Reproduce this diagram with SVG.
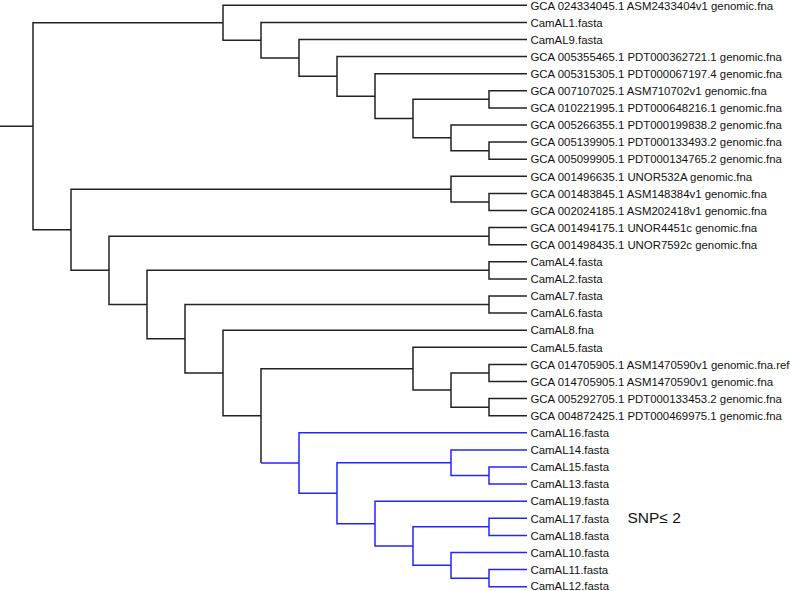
<svg xmlns="http://www.w3.org/2000/svg" width="791" height="591" viewBox="0 0 791 591">
<style>
.b{fill:none;stroke:#222;stroke-width:1.5;stroke-linejoin:miter}
.u{fill:none;stroke:#2424ff;stroke-width:1.5;stroke-linejoin:miter}
.t{font-family:"Liberation Sans",Arial,sans-serif;font-size:11.4px;fill:#111}
.s{font-family:"Liberation Sans",Arial,sans-serif;font-size:15.5px;fill:#111}
</style>
<rect width="791" height="591" fill="#fff"/>
<g id="connectors">
<path class="b" d="M0 126.25H33"/>
<path class="b" d="M223 22.74H33V229.75H71"/>
<path class="b" d="M527 5.3H223V40.17H261"/>
<path class="b" d="M527 22.4H261V57.94H299"/>
<path class="b" d="M527 39.5H299V76.37H337"/>
<path class="b" d="M527 56.6H337V96.15H375"/>
<path class="b" d="M527 73.7H375V118.59H413"/>
<path class="b" d="M489 99.35H413V137.83H451"/>
<path class="b" d="M527 90.8H489V107.9H527"/>
<path class="b" d="M527 125H451V150.65H489"/>
<path class="b" d="M527 142.1H489V159.2H527"/>
<path class="b" d="M451 189.13H71V270.36H109"/>
<path class="b" d="M527 176.3H451V201.95H489"/>
<path class="b" d="M527 193.4H489V210.5H527"/>
<path class="b" d="M489 236.15H109V304.57H147"/>
<path class="b" d="M527 227.6H489V244.7H527"/>
<path class="b" d="M489 270.35H147V338.79H185"/>
<path class="b" d="M527 261.8H489V278.9H527"/>
<path class="b" d="M489 304.55H185V373.02H223"/>
<path class="b" d="M527 296H489V313.1H527"/>
<path class="b" d="M527 330.2H223V415.84H261"/>
<path class="b" d="M413 368.68H261V463"/>
<path class="b" d="M527 347.3H413V390.05H451"/>
<path class="b" d="M489 372.95H451V407.15H489"/>
<path class="b" d="M527 364.4H489V381.5H527"/>
<path class="b" d="M527 398.6H489V415.7H527"/>
<path class="u" d="M261 463H299"/>
<path class="u" d="M527 432.8H299V493.19H337"/>
<path class="u" d="M451 462.73H337V523.65H375"/>
<path class="u" d="M527 449.9H451V475.55H489"/>
<path class="u" d="M527 467H489V484.1H527"/>
<path class="u" d="M527 501.2H375V546.09H413"/>
<path class="u" d="M489 526.85H413V565.33H451"/>
<path class="u" d="M527 518.3H489V535.4H527"/>
<path class="u" d="M527 552.5H451V578.15H489"/>
<path class="u" d="M527 569.6H489V586.7H527"/>
</g>
<g id="leaf1"><text class="t" x="530.5" y="9.5">GCA 024334045.1 ASM2433404v1 genomic.fna</text></g>
<g id="leaf2"><text class="t" x="530.5" y="26.6">CamAL1.fasta</text></g>
<g id="leaf3"><text class="t" x="530.5" y="43.7">CamAL9.fasta</text></g>
<g id="leaf4"><text class="t" x="530.5" y="60.8">GCA 005355465.1 PDT000362721.1 genomic.fna</text></g>
<g id="leaf5"><text class="t" x="530.5" y="77.9">GCA 005315305.1 PDT000067197.4 genomic.fna</text></g>
<g id="leaf6"><text class="t" x="530.5" y="95.0">GCA 007107025.1 ASM710702v1 genomic.fna</text></g>
<g id="leaf7"><text class="t" x="530.5" y="112.1">GCA 010221995.1 PDT000648216.1 genomic.fna</text></g>
<g id="leaf8"><text class="t" x="530.5" y="129.2">GCA 005266355.1 PDT000199838.2 genomic.fna</text></g>
<g id="leaf9"><text class="t" x="530.5" y="146.3">GCA 005139905.1 PDT000133493.2 genomic.fna</text></g>
<g id="leaf10"><text class="t" x="530.5" y="163.4">GCA 005099905.1 PDT000134765.2 genomic.fna</text></g>
<g id="leaf11"><text class="t" x="530.5" y="180.5">GCA 001496635.1 UNOR532A genomic.fna</text></g>
<g id="leaf12"><text class="t" x="530.5" y="197.6">GCA 001483845.1 ASM148384v1 genomic.fna</text></g>
<g id="leaf13"><text class="t" x="530.5" y="214.7">GCA 002024185.1 ASM202418v1 genomic.fna</text></g>
<g id="leaf14"><text class="t" x="530.5" y="231.8">GCA 001494175.1 UNOR4451c genomic.fna</text></g>
<g id="leaf15"><text class="t" x="530.5" y="248.9">GCA 001498435.1 UNOR7592c genomic.fna</text></g>
<g id="leaf16"><text class="t" x="530.5" y="266.0">CamAL4.fasta</text></g>
<g id="leaf17"><text class="t" x="530.5" y="283.1">CamAL2.fasta</text></g>
<g id="leaf18"><text class="t" x="530.5" y="300.2">CamAL7.fasta</text></g>
<g id="leaf19"><text class="t" x="530.5" y="317.3">CamAL6.fasta</text></g>
<g id="leaf20"><text class="t" x="530.5" y="334.4">CamAL8.fna</text></g>
<g id="leaf21"><text class="t" x="530.5" y="351.5">CamAL5.fasta</text></g>
<g id="leaf22"><text class="t" x="530.5" y="368.6">GCA 014705905.1 ASM1470590v1 genomic.fna.ref</text></g>
<g id="leaf23"><text class="t" x="530.5" y="385.7">GCA 014705905.1 ASM1470590v1 genomic.fna</text></g>
<g id="leaf24"><text class="t" x="530.5" y="402.8">GCA 005292705.1 PDT000133453.2 genomic.fna</text></g>
<g id="leaf25"><text class="t" x="530.5" y="419.9">GCA 004872425.1 PDT000469975.1 genomic.fna</text></g>
<g id="leaf26"><text class="t" x="530.5" y="437.0">CamAL16.fasta</text></g>
<g id="leaf27"><text class="t" x="530.5" y="454.1">CamAL14.fasta</text></g>
<g id="leaf28"><text class="t" x="530.5" y="471.2">CamAL15.fasta</text></g>
<g id="leaf29"><text class="t" x="530.5" y="488.3">CamAL13.fasta</text></g>
<g id="leaf30"><text class="t" x="530.5" y="505.4">CamAL19.fasta</text></g>
<g id="leaf31"><text class="t" x="530.5" y="522.5">CamAL17.fasta</text></g>
<g id="leaf32"><text class="t" x="530.5" y="539.6">CamAL18.fasta</text></g>
<g id="leaf33"><text class="t" x="530.5" y="556.7">CamAL10.fasta</text></g>
<g id="leaf34"><text class="t" x="530.5" y="573.8">CamAL11.fasta</text></g>
<g id="leaf35"><text class="t" x="530.5" y="589.9">CamAL12.fasta</text></g>
<g id="snp-label"><text class="s" x="627.5" y="522.7">SNP≤ 2</text></g>
</svg>
